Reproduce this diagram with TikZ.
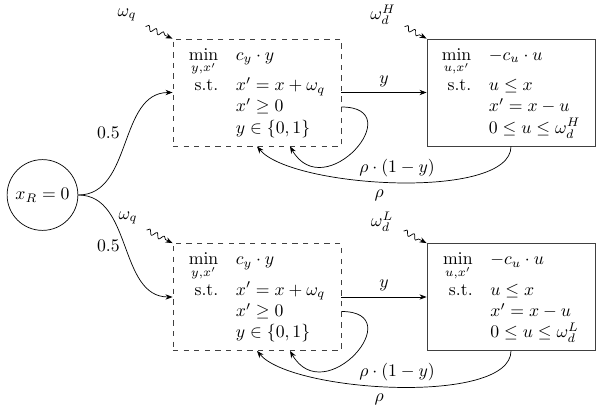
\documentclass[tikz,border=0pt]{standalone}
\usepackage{amsmath}
\usetikzlibrary{decorations.pathmorphing,arrows.meta,calc}
\begin{document}
\begin{tikzpicture}[x=0.565pt,y=0.565pt,
  >={Stealth[length=4pt,width=3pt]},
  stage/.style={draw=black!75, rectangle, minimum width=95pt, minimum height=60.5pt, inner sep=3pt},
  firststage/.style={stage, dashed},
  state/.style={draw, circle, minimum size=40pt, inner sep=1pt},
  noise/.style={->, decorate, decoration={snake, amplitude=0.5mm, segment length=1.6mm, post length=1mm}},
  lbl/.style={inner sep=3pt}]
\useasboundingbox (0,0) rectangle (604,-412);

% root state
\node[state] (root) at (42.5,-195) {$x_R = 0$};

% first-stage problems (dashed) and second-stage problems (solid)
\node[firststage] (qH) at (257,-92.5) {$\begin{array}{rl}
  \min\limits_{y,x'} & c_y \cdot y \\[3pt]
  \text{s.t.} & x' = x + \omega_q \\
  & x' \geq 0 \\
  & y \in \{0,1\}
\end{array}$};
\node[firststage] (qL) at (257,-297) {$\begin{array}{rl}
  \min\limits_{y,x'} & c_y \cdot y \\[3pt]
  \text{s.t.} & x' = x + \omega_q \\
  & x' \geq 0 \\
  & y \in \{0,1\}
\end{array}$};
\node[stage] (dH) at (511,-92.5) {$\begin{array}{rl}
  \min\limits_{u,x'} & -c_u \cdot u \\[3pt]
  \text{s.t.} & u \leq x \\
  & x' = x - u \\
  & 0 \leq u \leq \omega_d^H
\end{array}$};
\node[stage] (dL) at (511,-297) {$\begin{array}{rl}
  \min\limits_{u,x'} & -c_u \cdot u \\[3pt]
  \text{s.t.} & u \leq x \\
  & x' = x - u \\
  & 0 \leq u \leq \omega_d^L
\end{array}$};

% branching from the root
\draw[->] (root.east) to[out=0,in=180] node[above left, lbl] {$0.5$} (qH.west);
\draw[->] (root.east) to[out=0,in=180] node[left, lbl] {$0.5$} (qL.west);

% decision arcs
\draw[->] (qH.east) -- node[above, lbl] {$y$} (dH.west);
\draw[->] (qL.east) -- node[above, lbl] {$y$} (dL.west);

% self loops
\draw[->] ($(qH.east)+(0,-14.5)$) to[out=0,in=-60,looseness=2.75] ($(qH.south)+(33,0)$);
\draw[->] ($(qL.east)+(0,-14.5)$) to[out=0,in=-60,looseness=2.75] ($(qL.south)+(33,0)$);

% return arcs
\draw[->] (dH.south) to[out=-90,in=-50,looseness=0.55]
  node[pos=0.5, above, lbl] {$\rho \cdot (1-y)$}
  node[pos=0.55, below=1pt] {$\rho$} (qH.south);
\draw[->] (dL.south) to[out=-90,in=-50,looseness=0.55]
  node[pos=0.5, above, lbl] {$\rho \cdot (1-y)$}
  node[pos=0.55, below=1pt] {$\rho$} (qL.south);

% random inputs
\coordinate (nqH) at ($(qH.north west)+(-27,12)$);
\coordinate (nqL) at ($(qL.north west)+(-26,13)$);
\coordinate (ndH) at ($(dH.north west)+(-22,12)$);
\coordinate (ndL) at ($(dL.north west)+(-23,12)$);
\draw[noise] (nqH) -- (qH.north west);
\draw[noise] (nqL) -- (qL.north west);
\draw[noise] (ndH) -- (dH.north west);
\draw[noise] (ndL) -- (dL.north west);
\node (wqH) at (127,-15) {$\omega_q$};
\node (wqL) at (128,-218) {$\omega_q$};
\node (wdH) at (383,-15) {$\omega_d^H$};
\node (wdL) at (382,-222) {$\omega_d^L$};
\end{tikzpicture}
\end{document}
